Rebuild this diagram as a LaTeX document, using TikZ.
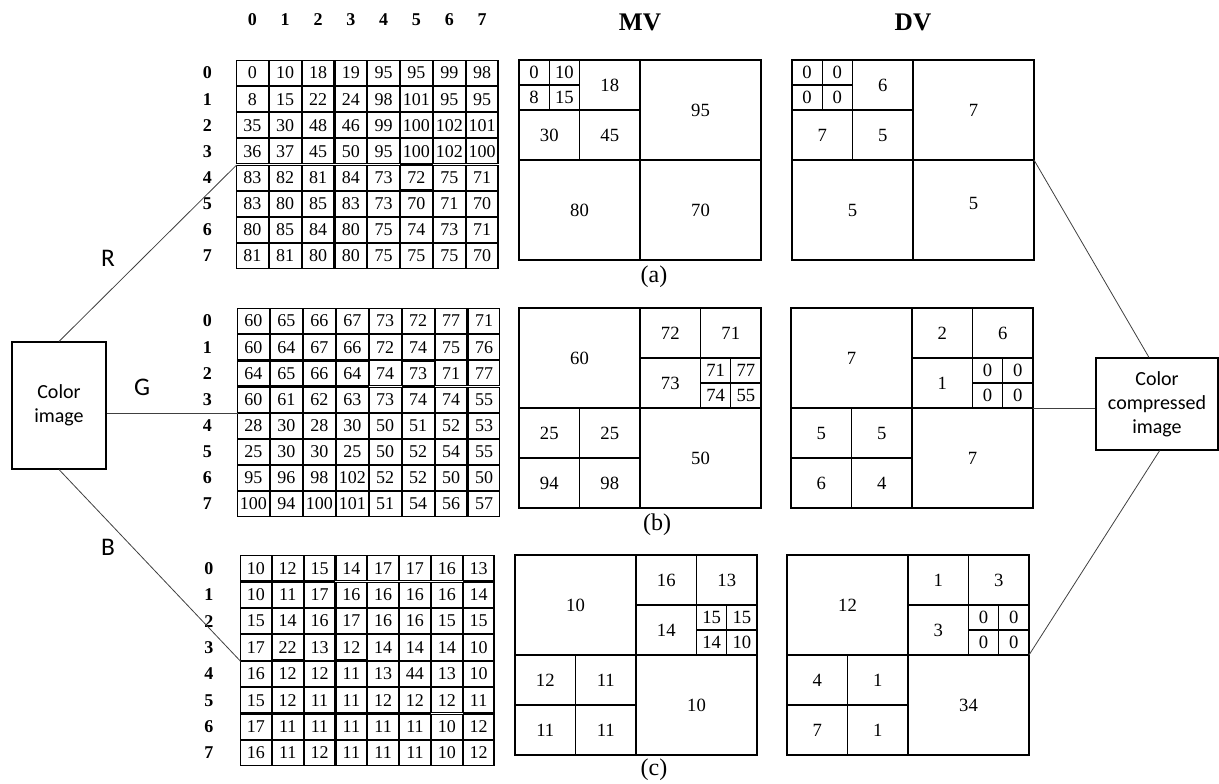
\documentclass[tikz,border=0pt]{standalone}
\usepackage{fontspec}
\setmainfont{Liberation Serif}
\newfontfamily\calib{Carlito}
\usetikzlibrary{matrix,positioning,calc}

\begin{document}
\begin{tikzpicture}[
    x=0.75pt, y=-0.75pt,
    cell/.style={rectangle, draw, thick, minimum height=18.75pt, inner sep=0pt, outer sep=0pt, font=\fontsize{13.5}{15}\selectfont},
    valgrid/.style={matrix of nodes, anchor=north west, inner sep=0pt, outer sep=0pt, column sep=0pt, row sep=0pt},
    hdr/.style={font=\fontsize{13.5}{15}\selectfont\bfseries},
    ttl/.style={font=\fontsize{19}{22}\selectfont\bfseries},
    sublbl/.style={font=\fontsize{18}{21}\selectfont},
    chan/.style={font=\calib\fontsize{19}{22}\selectfont},
    imgbox/.style={rectangle, draw, thick, align=center, font=\calib\fontsize{15}{18}\selectfont},
    q1/.style={rectangle, draw, thick, anchor=north west, inner sep=0pt, outer sep=0pt, minimum width=90.75pt, minimum height=75pt, font=\fontsize{14}{16}\selectfont},
    q2/.style={q1, minimum width=45.375pt, minimum height=37.5pt},
    q3/.style={q1, minimum width=22.69pt, minimum height=18.75pt},
    link/.style={draw=black!75, line width=0.6pt}
]
\useasboundingbox (0,0) rectangle (1219,784);

% channel value grids
\matrix[valgrid, nodes={cell, minimum width=23.81pt}] (ma) at (236,60) {
0 & 10 & 18 & 19 & 95 & 95 & 99 & 98 \\
8 & 15 & 22 & 24 & 98 & 101 & 95 & 95 \\
35 & 30 & 48 & 46 & 99 & 100 & 102 & 101 \\
36 & 37 & 45 & 50 & 95 & 100 & 102 & 100 \\
83 & 82 & 81 & 84 & 73 & 72 & 75 & 71 \\
83 & 80 & 85 & 83 & 73 & 70 & 71 & 70 \\
80 & 85 & 84 & 80 & 75 & 74 & 73 & 71 \\
81 & 81 & 80 & 80 & 75 & 75 & 75 & 70 \\
};
\matrix[valgrid, nodes={cell, minimum width=23.9pt}] (mb) at (237,308) {
60 & 65 & 66 & 67 & 73 & 72 & 77 & 71 \\
60 & 64 & 67 & 66 & 72 & 74 & 75 & 76 \\
64 & 65 & 66 & 64 & 74 & 73 & 71 & 77 \\
60 & 61 & 62 & 63 & 73 & 74 & 74 & 55 \\
28 & 30 & 28 & 30 & 50 & 51 & 52 & 53 \\
25 & 30 & 30 & 25 & 50 & 52 & 54 & 55 \\
95 & 96 & 98 & 102 & 52 & 52 & 50 & 50 \\
100 & 94 & 100 & 101 & 51 & 54 & 56 & 57 \\
};
\matrix[valgrid, nodes={cell, minimum width=23.06pt, minimum height=18.94pt}] (mc) at (240,555) {
10 & 12 & 15 & 14 & 17 & 17 & 16 & 13 \\
10 & 11 & 17 & 16 & 16 & 16 & 16 & 14 \\
15 & 14 & 16 & 17 & 16 & 16 & 15 & 15 \\
17 & 22 & 13 & 12 & 14 & 14 & 14 & 10 \\
16 & 12 & 12 & 11 & 13 & 44 & 13 & 10 \\
15 & 12 & 11 & 11 & 12 & 12 & 12 & 11 \\
17 & 11 & 11 & 11 & 11 & 11 & 10 & 12 \\
16 & 11 & 12 & 11 & 11 & 11 & 10 & 12 \\
};

% row and column indices
\foreach \n [count=\i] in {0,...,7} {
  \node[hdr] (ca\n) at ($(ma-1-\i)+(0,-53.5)$) {\n};
  \node[hdr] (ra\n) at ($(ma-\i-1)+(-45,0)$) {\n};
  \node[hdr] (rb\n) at ($(mb-\i-1)+(-46,0)$) {\n};
  \node[hdr] (rc\n) at ($(mc-\i-1)+(-47,0)$) {\n};
}

% MV (a)
\begin{scope}[shift={(519,60)}]
\node[q3] (mva-1) at (0,0) {0};
\node[q3] (mva-2) at (30.25,0) {10};
\node[q3] (mva-3) at (0,25) {8};
\node[q3] (mva-4) at (30.25,25) {15};
\node[q2] (mva-5) at (60.5,0) {18};
\node[q2] (mva-6) at (0,50) {30};
\node[q2] (mva-7) at (60.5,50) {45};
\node[q1] (mva-tr) at (121,0) {95};
\node[q1] (mva-bl) at (0,100) {80};
\node[q1] (mva-br) at (121,100) {70};
\end{scope}

% DV (a)
\begin{scope}[shift={(792,60)}]
\node[q3] (dva-1) at (0,0) {0};
\node[q3] (dva-2) at (30.25,0) {0};
\node[q3] (dva-3) at (0,25) {0};
\node[q3] (dva-4) at (30.25,25) {0};
\node[q2] (dva-5) at (60.5,0) {6};
\node[q2] (dva-6) at (0,50) {7};
\node[q2] (dva-7) at (60.5,50) {5};
\node[q1] (dva-tr) at (121,0) {7};
\node[q1] (dva-bl) at (0,100) {5};
\node[q1] (dva-br) at (121,100) {\raisebox{9.75pt}{5}};
\end{scope}

% MV (b)
\begin{scope}[shift={(519,308)}]
\node[q1] (mvb-tl) at (0,0) {60};
\node[q2] (mvb-1) at (121,0) {72};
\node[q2] (mvb-2) at (181.5,0) {71};
\node[q2] (mvb-3) at (121,50) {73};
\node[q3] (mvb-4) at (181.5,50) {71};
\node[q3] (mvb-5) at (211.75,50) {77};
\node[q3] (mvb-6) at (181.5,75) {74};
\node[q3] (mvb-7) at (211.75,75) {55};
\node[q2] (mvb-8) at (0,100) {25};
\node[q2] (mvb-9) at (60.5,100) {25};
\node[q2] (mvb-10) at (0,150) {94};
\node[q2] (mvb-11) at (60.5,150) {98};
\node[q1] (mvb-br) at (121,100) {50};
\end{scope}

% DV (b)
\begin{scope}[shift={(791,308)}]
\node[q1] (dvb-tl) at (0,0) {7};
\node[q2] (dvb-1) at (121,0) {2};
\node[q2] (dvb-2) at (181.5,0) {6};
\node[q2] (dvb-3) at (121,50) {1};
\node[q3] (dvb-4) at (181.5,50) {0};
\node[q3] (dvb-5) at (211.75,50) {0};
\node[q3] (dvb-6) at (181.5,75) {0};
\node[q3] (dvb-7) at (211.75,75) {0};
\node[q2] (dvb-8) at (0,100) {5};
\node[q2] (dvb-9) at (60.5,100) {5};
\node[q2] (dvb-10) at (0,150) {6};
\node[q2] (dvb-11) at (60.5,150) {4};
\node[q1] (dvb-br) at (121,100) {\raisebox{-9pt}{7}};
\end{scope}

% MV (c)
\begin{scope}[shift={(515,555)}]
\node[q1] (mvc-tl) at (0,0) {10};
\node[q2] (mvc-1) at (121,0) {16};
\node[q2] (mvc-2) at (181.5,0) {13};
\node[q2] (mvc-3) at (121,50) {14};
\node[q3] (mvc-4) at (181.5,50) {15};
\node[q3] (mvc-5) at (211.75,50) {15};
\node[q3] (mvc-6) at (181.5,75) {14};
\node[q3] (mvc-7) at (211.75,75) {10};
\node[q2] (mvc-8) at (0,100) {12};
\node[q2] (mvc-9) at (60.5,100) {11};
\node[q2] (mvc-10) at (0,150) {11};
\node[q2] (mvc-11) at (60.5,150) {11};
\node[q1] (mvc-br) at (121,100) {10};
\end{scope}

% DV (c)
\begin{scope}[shift={(787,555)}]
\node[q1] (dvc-tl) at (0,0) {12};
\node[q2] (dvc-1) at (121,0) {1};
\node[q2] (dvc-2) at (181.5,0) {3};
\node[q2] (dvc-3) at (121,50) {3};
\node[q3] (dvc-4) at (181.5,50) {0};
\node[q3] (dvc-5) at (211.75,50) {0};
\node[q3] (dvc-6) at (181.5,75) {0};
\node[q3] (dvc-7) at (211.75,75) {0};
\node[q2] (dvc-8) at (0,100) {4};
\node[q2] (dvc-9) at (60.5,100) {1};
\node[q2] (dvc-10) at (0,150) {7};
\node[q2] (dvc-11) at (60.5,150) {1};
\node[q1] (dvc-br) at (121,100) {34};
\end{scope}

\node[ttl] (mvt) at ($(mva-tr.north west)+(0,-38)$) {MV};
\node[ttl] (dvt) at ($(dva-tr.north west)+(0,-38)$) {DV};
\node[sublbl] (capa) at ($(mva-br.south west)+(14,17)$) {(a)};
\node[sublbl] (capb) at ($(mvb-br.south west)+(17,17)$) {(b)};
\node[sublbl] (capc) at ($(mvc-br.south west)+(18,15)$) {(c)};

% input and output images
\node[imgbox, minimum width=70.5pt, minimum height=95.25pt] (img) at (59,405.5) {Color\\image};
\node[imgbox, minimum width=91.5pt, minimum height=69pt] (out) at (1157,404) {Color\\compressed\\image};

\draw[link] (img.north) -- (ma-5-1.north west);
\draw[link] (img.east |- mb-5-1.north west) -- (mb-5-1.north west);
\draw[link] (img.south) -- (mc-5-1.north west);
\node[chan] (lr) at (108,258) {R};
\node[chan] (lg) at (142,387) {G};
\node[chan] (lb) at (108,547) {B};

\draw[link] (dva-br.north east) -- ([xshift=-6pt]out.north);
\draw[link] (dvb-br.north east) -- (out.west |- dvb-br.north east);
\draw[link] (dvc-br.north east) -- ([xshift=2pt]out.south);
\end{tikzpicture}
\end{document}
